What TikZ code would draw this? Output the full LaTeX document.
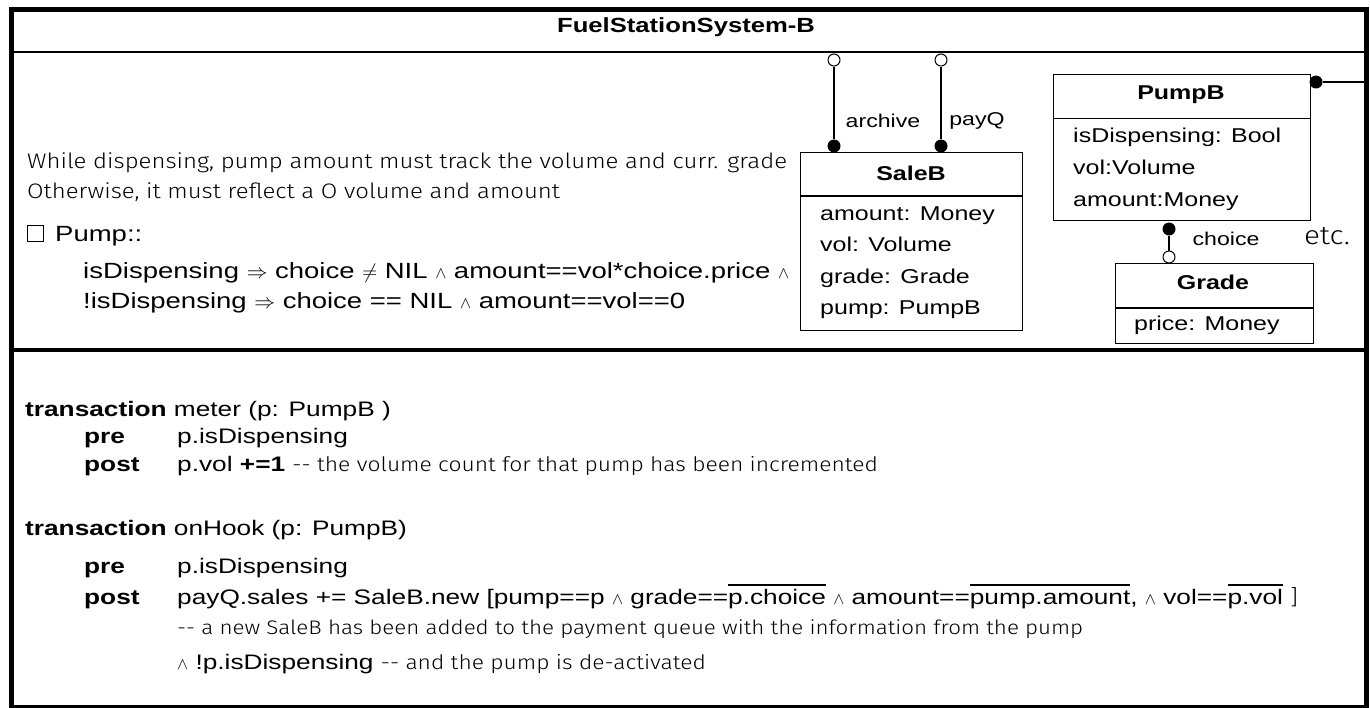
\documentclass[tikz,border=0pt]{standalone}
\usepackage{fontspec}
\usepackage{graphicx}
\setmainfont{Liberation Sans}[FakeStretch=1.25]
\newfontfamily\diagfont{Liberation Sans}[FakeStretch=1.25]
\IfFontExistsTF{Fira Sans Light}
  {\newfontfamily\lightfont{Fira Sans Light}[FakeStretch=1.14]}
  {\newfontfamily\lightfont{DejaVu Sans}}
% overlined value, rule set a little above the capitals
\newcommand\ovl[1]{\setbox0\hbox{#1}\rlap{\rule[0.86em]{\wd0}{1.6pt}}\box0\relax}
\newcommand\AND{\scalebox{0.8}{$\wedge$}}
\newcommand\IMP{$\Rightarrow$}
\newcommand\NEQ{$\neq$}
\begin{document}
\begin{tikzpicture}[x=1pt,y=-1pt,
  body/.style={anchor=base west, inner sep=0pt, font=\fontsize{21}{25}\selectfont},
  rule/.style={anchor=base west, inner sep=0pt, font=\fontsize{22}{26}\selectfont},
  note/.style={anchor=base west, inner sep=0pt, font=\lightfont\fontsize{21}{25}\selectfont},
  cls/.style={draw, line width=1.3pt, anchor=north west, inner sep=0pt},
  ctitle/.style={inner sep=0pt, font=\diagfont\bfseries\fontsize{20}{24}\selectfont},
  attr/.style={anchor=base west, inner sep=0pt, font=\diagfont\fontsize{20}{24}\selectfont},
  role/.style={inner sep=0pt, font=\diagfont\fontsize{18.5}{22}\selectfont},
  fdot/.style={circle, fill=black, inner sep=0pt, minimum size=13pt},
  odot/.style={circle, draw, fill=white, line width=1pt, inner sep=0pt, minimum size=12pt},
  link/.style={line width=1.6pt}]
\useasboundingbox (0,0) rectangle (1370,707);

% outer frame and its dividers
\node[draw, line width=5pt, anchor=north west, inner sep=0pt,
      minimum width=1355pt, minimum height=698.5pt] (frame) at (8.5,6.5) {};
\draw[line width=2pt] (frame.west |- 0,51.7) -- (frame.east |- 0,51.7);
\draw[line width=3.3pt] (frame.west |- 0,350) -- (frame.east |- 0,350);
\node[ctitle, font=\diagfont\bfseries\fontsize{20.5}{24}\selectfont] (title) at (686,27) {FuelStationSystem-B};

% invariant
\node[note] (n1) at (27,168) {While dispensing, pump amount must track the volume and curr. grade};
\node[note] (n2) at (27,198) {Otherwise, it must reflect a O volume and amount};
\draw[line width=0.9pt] (27.5,225.5) rectangle (43.5,241.5);
\node[rule] (inv) at (55,241) {Pump::};
\node[rule] (inv1) at (83,278) {isDispensing \IMP{} choice \NEQ{} NIL \AND{} amount==vol*choice.price \AND};
\node[rule] (inv2) at (83,308) {!isDispensing \IMP{} choice == NIL \AND{} amount==vol==0};

% class SaleB
\node[cls, minimum width=222pt, minimum height=178pt] (sale) at (800,152) {};
\draw[line width=1.3pt] (sale.west |- 0,196) -- (sale.east |- 0,196);
\node[ctitle] (saleT) at (911,173) {SaleB};
\node[attr] (sa1) at (820,220) {amount: Money};
\node[attr] (sa2) at (820,251) {vol: Volume};
\node[attr] (sa3) at (820,283) {grade: Grade};
\node[attr] (sa4) at (820,314) {pump: PumpB};

% class PumpB
\node[cls, minimum width=257pt, minimum height=146pt] (pump) at (1053,74) {};
\draw[line width=1.3pt] (pump.west |- 0,118.3) -- (pump.east |- 0,118.3);
\node[ctitle] (pumpT) at (1181,95) {PumpB};
\node[attr] (pa1) at (1073,142) {isDispensing: Bool};
\node[attr] (pa2) at (1073,174) {vol:Volume};
\node[attr] (pa3) at (1073,206) {amount:Money};

% class Grade
\node[cls, minimum width=198pt, minimum height=80pt] (grade) at (1115,263) {};
\draw[line width=1.3pt] (grade.west |- 0,308) -- (grade.east |- 0,308);
\node[ctitle] (gradeT) at (1213,282) {Grade};
\node[attr] (ga1) at (1134,330) {price: Money};

% associations
\node[odot] (archO) at (834,60) {};
\node[fdot] (archD) at (834,146) {};
\draw[link] (archO) -- (archD);
\node[role] (archL) at (883,121) {archive};

\node[odot] (payO) at (941,60) {};
\node[fdot] (payD) at (941,146) {};
\draw[link] (payO) -- (payD);
\node[role] (payL) at (977,121) {payQ};

\node[fdot] (pumpD) at (1316,82) {};
\draw[link] (pumpD) -- (pumpD -| frame.east);

\node[fdot] (choiceD) at (1169,229) {};
\node[odot] (choiceO) at (1169,257) {};
\draw[link] (choiceD) -- (choiceO);
\node[role] (choiceL) at (1226,239) {choice};
\node[inner sep=0pt, font=\lightfont\fontsize{26}{30}\selectfont] (etc) at (1327,236) {etc.};

% transactions
\node[body] (t1) at (25,416) {\textbf{transaction} meter (p: PumpB )};
\node[body] (t1pre) at (84,443) {\textbf{pre}};
\node[body] (t1prev) at (177,443) {p.isDispensing};
\node[body] (t1post) at (84,471) {\textbf{post}};
\node[body] (t1postv) at (177,471) {p.vol \textbf{+=1} {\lightfont\fontsize{20}{24}\selectfont{-}{-} the volume count for that pump has been incremented}};

\node[body] (t2) at (25,535) {\textbf{transaction} onHook (p: PumpB)};
\node[body] (t2pre) at (84,573) {\textbf{pre}};
\node[body] (t2prev) at (177,573) {p.isDispensing};
\node[body] (t2post) at (84,604) {\textbf{post}};
\node[body] (t2postv) at (177,604) {payQ.sales += SaleB.new [pump==p \AND{} grade==\ovl{p.choice} \AND{} amount==\ovl{pump.amount}, \AND{} vol==\ovl{p.vol} {\lightfont ]}};
\node[note, font=\lightfont\fontsize{19.6}{24}\selectfont] (t2c1) at (177,634) {{-}{-} a new SaleB has been added to the payment queue with the information from the pump};
\node[body] (t2c2) at (177,669) {\AND{} !p.isDispensing {\lightfont\fontsize{20}{24}\selectfont{-}{-} and the pump is de-activated}};
\end{tikzpicture}
\end{document}
